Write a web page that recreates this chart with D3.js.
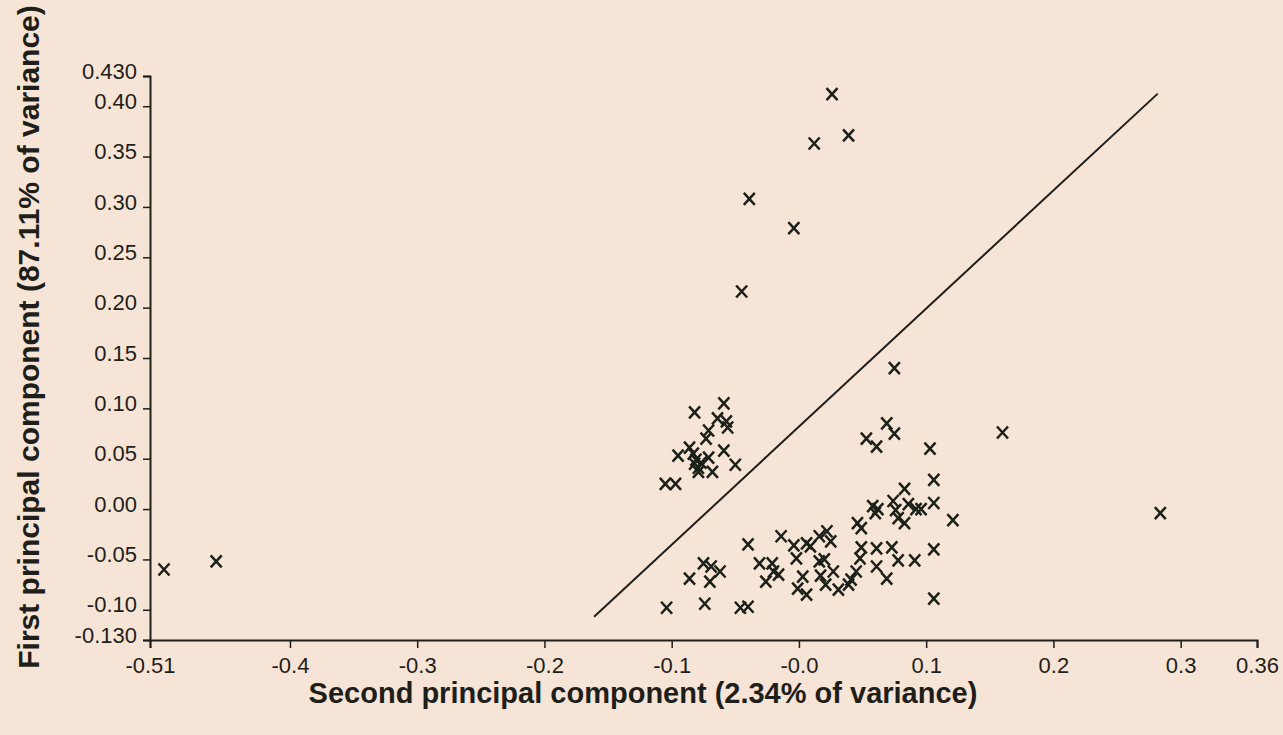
<!DOCTYPE html>
<html>
<head>
<meta charset="utf-8">
<script src="https://cdn.jsdelivr.net/npm/d3@7"></script>
<style>
  body { margin: 0; background: #f6e4d6; }
  svg { display: block; }
  .tick text { font-family: Arial, "Liberation Sans", sans-serif; font-size: 22px; fill: #1e1e1a; }
  .axis-title { font-family: Arial, "Liberation Sans", sans-serif; font-size: 29px; font-weight: bold; fill: #1e1e1a; }
</style>
</head>
<body>
<div class="chart"></div>
<script>
// chart size
var svgWidth = 1283;
var svgHeight = 735;

// plot area in pixels
var margin = { top: 76, right: 26, bottom: 95, left: 150 };
var width = svgWidth - margin.left - margin.right;
var height = svgHeight - margin.top - margin.bottom;

// tick values and labels
var xTicks = [-0.51, -0.4, -0.3, -0.2, -0.1, 0, 0.1, 0.2, 0.3, 0.36];
var xTickLabels = ["-0.51", "-0.4", "-0.3", "-0.2", "-0.1", "-0.0", "0.1", "0.2", "0.3", "0.36"];
var yTicks = [-0.13, -0.10, -0.05, 0.00, 0.05, 0.10, 0.15, 0.20, 0.25, 0.30, 0.35, 0.40, 0.43];
var yTickLabels = ["-0.130", "-0.10", "-0.05", "0.00", "0.05", "0.10", "0.15", "0.20", "0.25", "0.30", "0.35", "0.40", "0.430"];

// second principal component (x) of each sample
var pc2 = [
  -0.499, -0.458,
  0.026, 0.039, 0.012, -0.039, -0.004, -0.045, 0.075,
  -0.082, -0.059, -0.064, -0.057, -0.056, -0.071, -0.073, -0.086, -0.095, -0.083,
  -0.081, -0.079, -0.071, -0.059, -0.050, -0.068, -0.079, -0.077, -0.082, -0.105, -0.097,
  0.069, 0.075, 0.053, 0.061, 0.103, 0.160, 0.106,
  0.083, 0.058, 0.060, 0.062, 0.074, 0.076, 0.078, 0.086, 0.092, 0.096, 0.083, 0.106,
  0.121, 0.046, 0.049, 0.284,
  0.022, 0.025, 0.049, 0.048, 0.061, 0.073, 0.078, 0.091, 0.106, 0.061, 0.069, 0.106,
  0.020, 0.016, 0.027, 0.045, 0.041, 0.039, 0.031, 0.021, 0.017, 0.003, -0.001, 0.006,
  -0.004, -0.002, 0.006, 0.009, 0.016, -0.014, -0.040, -0.031, -0.021, -0.020, -0.026, -0.016,
  -0.086, -0.075, -0.069, -0.062, -0.070, -0.104, -0.074, -0.046, -0.040
];

// first principal component (y) of each sample
var pc1 = [
  -0.060, -0.052,
  0.412, 0.371, 0.363, 0.308, 0.279, 0.216, 0.140,
  0.096, 0.105, 0.090, 0.087, 0.081, 0.078, 0.070, 0.061, 0.053, 0.055,
  0.049, 0.041, 0.051, 0.058, 0.044, 0.037, 0.037, 0.046, 0.045, 0.025, 0.025,
  0.085, 0.075, 0.070, 0.062, 0.060, 0.076, 0.029,
  0.020, 0.003, -0.004, 0.000, 0.008, -0.001, -0.009, 0.005, 0.000, 0.000, -0.014, 0.006,
  -0.011, -0.014, -0.019, -0.004,
  -0.022, -0.032, -0.038, -0.049, -0.039, -0.038, -0.051, -0.051, -0.040, -0.057, -0.069, -0.089,
  -0.050, -0.052, -0.062, -0.062, -0.070, -0.075, -0.080, -0.075, -0.066, -0.067, -0.079, -0.085,
  -0.036, -0.049, -0.034, -0.037, -0.027, -0.027, -0.035, -0.054, -0.054, -0.062, -0.072, -0.065,
  -0.069, -0.054, -0.057, -0.062, -0.072, -0.098, -0.094, -0.098, -0.097
];

// separating line end points
var lineX = [-0.161, 0.282];
var lineY = [-0.107, 0.4125];

var points = pc2.map(function(d, i) { return { x: d, y: pc1[i] }; });
var linePts = lineX.map(function(d, i) { return [d, lineY[i]]; });

var svg = d3.select(".chart")
  .append("svg")
  .attr("width", svgWidth)
  .attr("height", svgHeight);

svg.append("rect")
  .attr("width", svgWidth)
  .attr("height", svgHeight)
  .attr("fill", "#f6e4d6");

var chartGroup = svg.append("g")
  .attr("transform", `translate(${margin.left}, ${margin.top})`);

var x = d3.scaleLinear().domain([-0.51, 0.36]).range([0, width]);
var y = d3.scaleLinear().domain([-0.13, 0.43]).range([height, 0]);

// axes
var xAxis = d3.axisBottom(x)
  .tickValues(xTicks)
  .tickSize(8)
  .tickPadding(6)
  .tickFormat(function(d, i) { return xTickLabels[i]; });

var yAxis = d3.axisLeft(y)
  .tickValues(yTicks)
  .tickSize(7)
  .tickPadding(6)
  .tickFormat(function(d, i) { return yTickLabels[i]; });

var gx = chartGroup.append("g")
  .attr("transform", `translate(0, ${height})`)
  .call(xAxis);

var gy = chartGroup.append("g")
  .call(yAxis);

[gx, gy].forEach(function(g) {
  g.select(".domain").attr("stroke", "#1e1e1a").attr("stroke-width", 2);
  g.selectAll(".tick line").attr("stroke", "#1e1e1a").attr("stroke-width", 1.5);
});
gx.selectAll(".tick text").attr("dy", "0.85em");
gy.selectAll(".tick text").attr("dy", "0.1em");

// separating line
chartGroup.append("path")
  .datum(linePts)
  .attr("d", d3.line().x(function(d) { return x(d[0]); }).y(function(d) { return y(d[1]); }))
  .attr("fill", "none")
  .attr("stroke", "#1e1e1a")
  .attr("stroke-width", 2);

// x markers
var cross = "M-5.5,-6L5.5,6M-5.5,6L5.5,-6";
chartGroup.selectAll(".mark")
  .data(points)
  .enter()
  .append("path")
  .attr("class", "mark")
  .attr("transform", function(d) { return `translate(${x(d.x)}, ${y(d.y)})`; })
  .attr("d", cross)
  .attr("fill", "none")
  .attr("stroke", "#1b2018")
  .attr("stroke-width", 2.5);

// axis titles
svg.append("text")
  .attr("class", "axis-title")
  .attr("text-anchor", "middle")
  .attr("x", 643)
  .attr("y", 703)
  .text("Second principal component (2.34% of variance)");

svg.append("text")
  .attr("class", "axis-title")
  .attr("text-anchor", "middle")
  .attr("font-size", 30)
  .style("font-size", "30px")
  .attr("transform", "translate(39, 337) rotate(-90)")
  .text("First principal component (87.11% of variance)");
</script>
</body>
</html>
